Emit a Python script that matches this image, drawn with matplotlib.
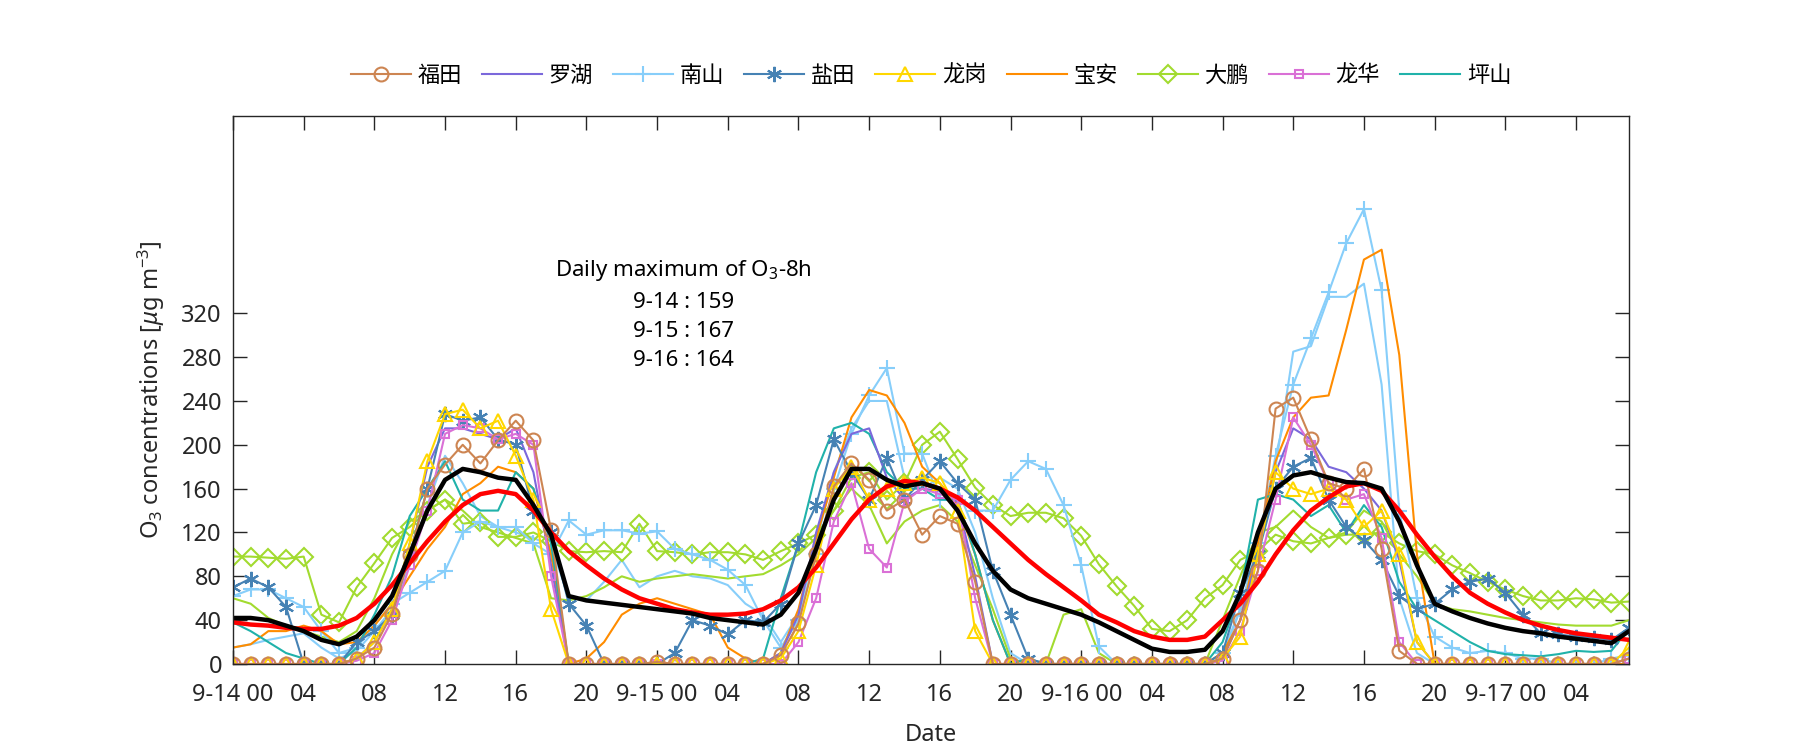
import numpy as np
import matplotlib
matplotlib.use("Agg")
import matplotlib.pyplot as plt

plt.rcParams['font.family'] = ['Noto Sans', 'Noto Sans CJK SC', 'DejaVu Sans']
plt.rcParams['mathtext.fontset'] = 'custom'
plt.rcParams['mathtext.rm'] = 'Noto Sans'
plt.rcParams['mathtext.it'] = 'Noto Sans:italic'

hours = list(range(80))
tick_hours = list(range(0, 80, 4))
tick_labels = ["9-14 00", "04", "08", "12", "16", "20",
               "9-15 00", "04", "08", "12", "16", "20",
               "9-16 00", "04", "08", "12", "16", "20",
               "9-17 00", "04"]
y_ticks = [0, 40, 80, 120, 160, 200, 240, 280, 320]

station_names = ["福田", "罗湖", "南山", "盐田", "龙岗", "宝安", "大鹏", "龙华", "坪山"]

futian = [0, 0, 0, 0, 0, 0, 0, 5,
          15, 46, 99, 160, 182, 200, 183, 204,
          222, 204, 122, 0, 0, 0, 0, 0,
          2, 0, 0, 0, 0, 0, 0, 8,
          37, 100, 162, 183, 168, 140, 150, 118,
          135, 128, 75, 0, 0, 0, 0, 0,
          0, 0, 0, 0, 0, 0, 0, 0,
          5, 40, 85, 233, 243, 205, 165, 160,
          178, 105, 12, 0, 0, 0, 0, 0,
          0, 0, 0, 0, 0, 0, 0, 5]
luohu = [0, 0, 0, 0, 0, 0, 0, 5,
         20, 50, 110, 180, 215, 215, 210, 205,
         215, 175, 90, 0, 0, 0, 0, 0,
         0, 0, 0, 0, 0, 0, 0, 10,
         45, 120, 175, 210, 215, 170, 150, 160,
         158, 148, 80, 0, 0, 0, 0, 0,
         0, 0, 0, 0, 0, 0, 0, 0,
         5, 40, 100, 175, 215, 205, 180, 175,
         160, 140, 95, 20, 0, 0, 0, 0,
         0, 0, 0, 0, 0, 0, 0, 5]
nanshan = [62, 68, 68, 60, 52, 30, 10, 15,
           35, 55, 65, 75, 85, 120, 130, 125,
           125, 110, 100, 131, 118, 122, 122, 119,
           121, 105, 100, 95, 86, 72, 40, 15,
           40, 100, 160, 210, 245, 270, 192, 192,
           150, 150, 140, 140, 168, 185, 178, 145,
           90, 16, 0, 0, 0, 0, 0, 0,
           10, 50, 110, 190, 255, 297, 339, 384,
           415, 341, 140, 60, 25, 15, 10, 12,
           10, 5, 5, 0, 0, 0, 5, 8]
yantian = [70, 78, 70, 52, 0, 0, 0, 20,
           30, 45, 100, 160, 228, 222, 225, 205,
           200, 140, 120, 55, 35, 0, 0, 0,
           0, 10, 40, 35, 27, 40, 38, 55,
           110, 145, 205, 175, 150, 188, 150, 168,
           185, 165, 150, 85, 45, 5, 0, 0,
           0, 0, 0, 0, 0, 0, 0, 0,
           10, 65, 100, 160, 180, 188, 150, 125,
           113, 95, 62, 50, 55, 68, 75, 78,
           65, 45, 28, 27, 25, 24, 22, 33]
longgang = [0, 0, 0, 0, 0, 0, 0, 5,
            20, 50, 110, 185, 228, 232, 215, 222,
            190, 150, 50, 0, 0, 0, 0, 0,
            0, 0, 0, 0, 0, 0, 0, 5,
            30, 90, 160, 180, 150, 160, 165, 170,
            165, 140, 30, 0, 0, 0, 0, 0,
            0, 0, 0, 0, 0, 0, 0, 0,
            5, 25, 100, 175, 160, 155, 160, 150,
            125, 140, 100, 20, 0, 0, 0, 0,
            0, 0, 0, 0, 0, 0, 0, 15]
baoan = [15, 18, 30, 30, 35, 30, 18, 20,
         35, 55, 80, 105, 125, 155, 165, 180,
         175, 160, 100, 0, 5, 20, 45, 55,
         60, 55, 50, 45, 15, 5, 0, 10,
         50, 115, 170, 225, 250, 245, 220, 180,
         165, 145, 100, 40, 0, 0, 0, 0,
         0, 0, 0, 0, 0, 0, 0, 0,
         10, 40, 110, 185, 225, 243, 245, 305,
         369, 378, 282, 100, 0, 0, 0, 0,
         0, 0, 0, 0, 0, 0, 0, 0]
dapeng = [98, 98, 97, 96, 98, 45, 38, 70,
          92, 115, 125, 140, 150, 128, 130, 116,
          116, 120, 112, 103, 102, 103, 102, 128,
          103, 102, 100, 102, 102, 100, 95, 103,
          110, 118, 140, 170, 175, 150, 165, 200,
          212, 187, 161, 145, 135, 138, 138, 133,
          117, 91, 71, 53, 32, 30, 40, 60,
          72, 95, 103, 118, 112, 110, 115, 118,
          118, 120, 110, 103, 100, 90, 83, 75,
          68, 62, 58, 58, 60, 59, 56, 57]
longhua = [0, 0, 0, 0, 0, 0, 0, 3,
           10, 40, 90, 140, 210, 218, 215, 205,
           210, 200, 80, 0, 0, 0, 0, 0,
           0, 0, 0, 0, 0, 0, 0, 0,
           20, 60, 130, 165, 105, 88, 148, 160,
           155, 150, 60, 0, 0, 0, 0, 0,
           0, 0, 0, 0, 0, 0, 0, 0,
           3, 30, 85, 150, 225, 200, 165, 150,
           155, 115, 20, 0, 0, 0, 0, 0,
           0, 0, 0, 0, 0, 0, 0, 5]
pingshan = [38, 30, 20, 10, 5, 0, 0, 15,
            45, 80, 135, 160, 185, 150, 140, 140,
            175, 160, 110, 0, 0, 0, 0, 0,
            0, 0, 0, 0, 0, 0, 5, 60,
            110, 175, 215, 220, 210, 175, 160, 160,
            150, 150, 100, 40, 0, 5, 0, 0,
            0, 0, 0, 0, 0, 0, 0, 0,
            20, 65, 150, 155, 150, 135, 145, 120,
            145, 125, 75, 50, 40, 30, 20, 12,
            9, 8, 7, 9, 12, 11, 12, 32]

# additional unlabeled station curves
extra_blue = [15, 18, 22, 25, 28, 15, 5, 12,
              30, 50, 90, 145, 190, 165, 135, 125,
              120, 115, 108, 60, 58, 75, 95, 70,
              80, 85, 80, 78, 72, 55, 45, 20,
              45, 110, 175, 215, 240, 240, 170, 160,
              170, 160, 120, 60, 10, 0, 0, 0,
              0, 0, 0, 0, 0, 0, 0, 0,
              5, 50, 100, 180, 285, 290, 335, 335,
              347, 255, 60, 10, 0, 0, 0, 0,
              0, 0, 0, 0, 0, 0, 0, 0]
extra_green = [60, 55, 42, 35, 30, 25, 20, 30,
               60, 100, 130, 140, 150, 140, 125, 120,
               115, 110, 60, 58, 62, 70, 80, 75,
               78, 80, 82, 80, 78, 80, 82, 90,
               100, 115, 140, 160, 145, 110, 130, 140,
               145, 130, 90, 50, 5, 0, 0, 45,
               50, 10, 0, 0, 0, 0, 0, 0,
               40, 80, 120, 125, 140, 125, 115, 120,
               140, 130, 100, 80, 55, 50, 48, 45,
               42, 40, 38, 36, 35, 35, 35, 40]

mean_all = [42, 42, 40, 35, 30, 22, 18, 25,
            40, 62, 100, 140, 168, 178, 175, 170,
            168, 145, 118, 62, 58, 56, 54, 52,
            50, 48, 46, 42, 40, 38, 36, 45,
            65, 105, 150, 178, 178, 168, 162, 165,
            160, 140, 110, 85, 68, 60, 55, 50,
            45, 38, 30, 22, 14, 11, 11, 13,
            30, 65, 120, 160, 172, 175, 170, 166,
            165, 160, 130, 90, 55, 48, 42, 37,
            33, 30, 28, 25, 23, 21, 19, 30]
mean_8h = [38, 36, 35, 33, 32, 32, 35, 42,
           55, 72, 92, 112, 130, 145, 155, 158,
           155, 140, 120, 103, 90, 78, 68, 60,
           55, 50, 47, 45, 45, 46, 50, 58,
           70, 88, 110, 132, 150, 162, 167, 165,
           160, 152, 140, 125, 110, 95, 82, 70,
           58, 45, 38, 30, 25, 22, 22, 25,
           40, 55, 75, 100, 122, 140, 152, 162,
           165, 158, 140, 118, 98, 80, 65, 55,
           47, 40, 35, 31, 28, 26, 24, 22]

note_lines = ["Daily maximum of O$_3$-8h", "9-14 : 159", "9-15 : 167", "9-16 : 164"]

fig = plt.figure(figsize=(18, 7.5), dpi=100)
ax = fig.add_axes([233 / 1800, 86 / 750, 1396 / 1800, 548 / 750])

lw = 1.5
ax.plot(hours, extra_blue, color='#87CEFA', lw=lw, label='_nolegend_')
ax.plot(hours, extra_green, color='#A2DB2F', lw=lw, label='_nolegend_')

styles = [
    (futian, '#CD8552', 'o', 10, 'none'),
    (luohu, '#7B68DB', None, 0, None),
    (nanshan, '#87CEFA', '+', 12, None),
    (yantian, '#4682B4', (6, 2, 0), 11, None),
    (longgang, '#FFD700', '^', 10, 'none'),
    (baoan, '#FF8C00', None, 0, None),
    (dapeng, '#A2DB2F', 'D', 9, 'none'),
    (longhua, '#DA70D6', 's', 6, 'none'),
    (pingshan, '#20B2AA', None, 0, None),
]
order = [6, 2, 5, 8, 1, 3, 7, 4, 0]
handles = {}
for i in order:
    vals, col, mk, ms, mfc = styles[i]
    kw = dict(color=col, lw=lw, label=station_names[i])
    if mk is not None:
        kw.update(marker=mk, markersize=ms, markeredgewidth=1.5)
        if mfc:
            kw.update(markerfacecolor=mfc)
    h, = ax.plot(hours, vals, **kw)
    handles[i] = h

ax.plot(hours, mean_8h, color='red', lw=3.2)
ax.plot(hours, mean_all, color='black', lw=3.2)

ax.set_xlim(0, 79)
ax.set_ylim(0, 500)
ax.set_xticks(tick_hours)
ax.set_xticklabels(tick_labels)
ax.set_yticks(y_ticks)
ax.tick_params(direction='in', length=10, width=1, top=True, right=True,
               labelsize=17, colors='#262626')
ax.tick_params(axis='x', pad=14)
ax.tick_params(axis='y', pad=8)
for s in ax.spines.values():
    s.set_linewidth(1.0)
    s.set_color('#262626')

ax.set_xlabel('Date', fontsize=17, color='#262626', labelpad=11)
ax.set_ylabel(r'O$_3$ concentrations [$\mu$g m$^{-3}$]', fontsize=17,
              color='#262626', labelpad=10)

note_y = [359, 330, 303, 277]
for txt, yv in zip(note_lines, note_y):
    ax.text(25.5, yv, txt, ha='center', va='center', fontsize=16, color='black')

leg = ax.legend([handles[i] for i in range(9)], station_names,
                loc='center', bbox_to_anchor=(0.5, 1.0 + (116 - 76) / 548),
                ncol=9, frameon=False, fontsize=16, handlelength=2.7,
                handletextpad=0.3, columnspacing=0.9)

fig.savefig('out.png', dpi=100)
